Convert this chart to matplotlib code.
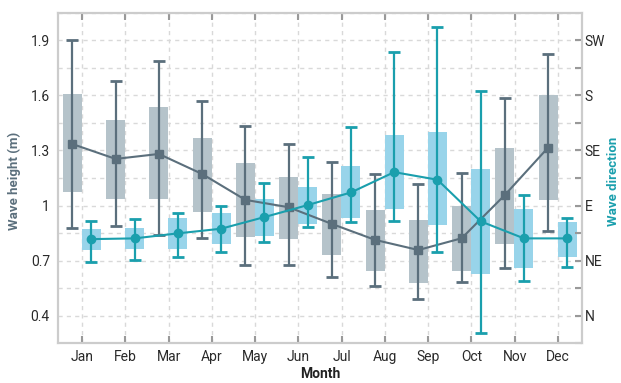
import matplotlib
matplotlib.use("Agg")
import matplotlib.pyplot as plt
import numpy as np
from matplotlib.ticker import FixedLocator

plt.rcParams['font.family'] = ['Roboto', 'DejaVu Sans']

months = ['Jan', 'Feb', 'Mar', 'Apr', 'May', 'Jun', 'Jul', 'Aug', 'Sep', 'Oct', 'Nov', 'Dec']

# Wave height (m)
height_mean = [1.335, 1.254, 1.281, 1.172, 1.031, 0.991, 0.900, 0.813, 0.758, 0.822, 1.058, 1.316]
height_q_hi = [1.608, 1.466, 1.535, 1.368, 1.230, 1.156, 1.065, 0.976, 0.922, 0.998, 1.314, 1.602]
height_q_lo = [1.074, 1.038, 1.038, 0.967, 0.831, 0.820, 0.731, 0.646, 0.580, 0.646, 0.791, 1.031]
height_max = [1.900, 1.678, 1.789, 1.571, 1.435, 1.335, 1.239, 1.170, 1.118, 1.179, 1.586, 1.827]
height_min = [0.880, 0.887, 0.840, 0.822, 0.677, 0.677, 0.613, 0.562, 0.493, 0.584, 0.662, 0.864]

# Wave direction (degrees)
dir_mean = [62.6, 63.2, 67.3, 71.1, 80.6, 90.4, 100.7, 117.3, 111.1, 77.1, 63.2, 63.2]
dir_q_hi = [70.5, 71.6, 79.8, 83.9, 95.3, 104.8, 122.2, 147.3, 149.7, 119.5, 86.8, 76.5]
dir_q_lo = [53.7, 54.5, 54.5, 58.8, 65.1, 75.2, 79.8, 87.1, 74.0, 34.0, 39.0, 48.2]
dir_max = [77.3, 78.7, 84.1, 89.8, 108.4, 129.9, 154.3, 215.3, 235.7, 183.2, 98.8, 80.0]
dir_min = [43.9, 45.2, 47.9, 52.3, 60.5, 72.4, 76.2, 77.8, 52.0, -13.9, 28.3, 39.5]

height_ticks = [0.4, 0.7, 1.0, 1.3, 1.6, 1.9]
height_ticklabels = ['0.4', '0.7', '1', '1.3', '1.6', '1.9']
dir_ticks = [0, 45, 90, 135, 180, 225]
dir_ticklabels = ['N', 'NE', 'E', 'SE', 'S', 'SW']

GRAY_BAR = '#b5c3ca'
GRAY_LINE = '#5b6f7c'
TEAL_BAR = '#98d4ea'
TEAL_LINE = '#1a9fad'

fig = plt.figure(figsize=(6.21, 3.83), dpi=100)
ax = fig.add_axes([0.0939, 0.1036, 0.9367 - 0.0939, 0.9668 - 0.1036])
ax2 = ax.twinx()

x = np.arange(len(months))
xg = x - 0.225
xt = x + 0.215
bw = 0.44

# gray boxes on left axis
ax.bar(xg, np.array(height_q_hi) - np.array(height_q_lo), bottom=height_q_lo,
       width=bw, color=GRAY_BAR, zorder=2)

# teal boxes on right axis
ax2.bar(xt, np.array(dir_q_hi) - np.array(dir_q_lo), bottom=dir_q_lo,
        width=bw, color=TEAL_BAR, zorder=1)

# gray whiskers + line drawn on top axes using left-axis data transform
tr = ax.transData
ax2.vlines(xg, height_min, height_max, color=GRAY_LINE, lw=1.6, zorder=2, transform=tr)
ax2.plot(xg, height_max, ls='none', marker='_', ms=9, mew=2, color=GRAY_LINE, zorder=2, transform=tr)
ax2.plot(xg, height_min, ls='none', marker='_', ms=9, mew=2, color=GRAY_LINE, zorder=2, transform=tr)
ax2.plot(xg, height_mean, color=GRAY_LINE, lw=1.5, marker='s', ms=6, zorder=3, transform=tr)

# teal whiskers + line
ax2.vlines(xt, dir_min, dir_max, color=TEAL_LINE, lw=1.6, zorder=4)
ax2.plot(xt, dir_max, ls='none', marker='_', ms=9, mew=2, color=TEAL_LINE, zorder=4)
ax2.plot(xt, dir_min, ls='none', marker='_', ms=9, mew=2, color=TEAL_LINE, zorder=4)
ax2.plot(xt, dir_mean, color=TEAL_LINE, lw=1.5, marker='o', ms=6, zorder=5)

# limits
ax.set_xlim(-0.55, 11.55)
ax.set_ylim(0.25, 2.05)
ax2.set_ylim(-22.5, 247.5)

# left axis ticks
ax.yaxis.set_major_locator(FixedLocator(height_ticks))
ax.set_yticklabels(height_ticklabels)
ax.yaxis.set_minor_locator(FixedLocator([v + 0.15 for v in height_ticks[:-1]] + [1.9 + 0.15 - 0.0001]))
ax.tick_params(axis='y', which='both', length=0, labelsize=10, labelcolor='#2a2a2a', pad=6)

# x axis
ax.set_xticks(x)
ax.set_xticklabels(months)
ax.tick_params(axis='x', which='both', direction='in', top=True, bottom=True, length=5,
               color='#999999', width=1.5, labelsize=10, labelcolor='#2a2a2a', pad=5)

# right axis
ax2.yaxis.set_major_locator(FixedLocator(dir_ticks))
ax2.set_yticklabels(dir_ticklabels)
ax2.yaxis.set_minor_locator(FixedLocator([d + 22.5 for d in dir_ticks[:-1]] + [-22.5 + 0.001]))
ax2.tick_params(axis='y', which='both', direction='in', length=5, width=1.5,
                color='#999999', labelsize=10, labelcolor='#2a2a2a', pad=2)

# grid
ax.grid(True, which='both', axis='y', color='#d9d9d9', ls=(0, (3, 3)), lw=1, zorder=0)
ax.grid(True, which='major', axis='x', color='#d9d9d9', ls=(0, (3, 3)), lw=1, zorder=0)
ax.set_axisbelow(True)

for a in (ax, ax2):
    for s in a.spines.values():
        s.set_color('#cccccc')
        s.set_linewidth(1.5)

ax.set_xlabel('Month', fontsize=10, fontweight='bold', color='#222222')
ax.set_ylabel('Wave height (m)', fontsize=9.5, fontweight='bold', color=GRAY_LINE)
ax2.set_ylabel('Wave direction', fontsize=9.5, fontweight='bold', color=TEAL_LINE,
               rotation=90, va='center')
ax.xaxis.set_label_coords(0.5, -0.071)
ax.yaxis.set_label_coords(-0.0713, 0.49)
ax2.yaxis.set_label_coords(1.06, 0.49)

fig.savefig('out.png', dpi=100)
